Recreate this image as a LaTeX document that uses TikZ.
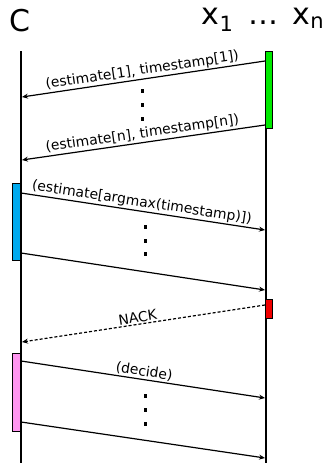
\documentclass[tikz,border=0pt]{standalone}
\usepackage{fontspec}
\setmainfont{DejaVu Sans}
\usetikzlibrary{arrows.meta}
\definecolor{actgreen}{RGB}{0,235,0}
\definecolor{actblue}{RGB}{0,170,238}
\definecolor{actred}{RGB}{240,0,0}
\definecolor{actpink}{RGB}{255,150,240}
\begin{document}
\begin{tikzpicture}[x=1pt,y=-1pt,
  lifeline/.style={line width=2pt},
  msg/.style={line width=1.2pt,-{Stealth[length=6pt,width=5pt]}},
  nack/.style={msg,dash pattern=on 3pt off 2pt},
  lbl/.style={font=\fontsize{13.9}{14}\selectfont,sloped,above,inner sep=1.2pt},
  act/.style={draw=black,line width=1pt},
  dotmark/.style={fill=black,inner sep=0pt,minimum width=3pt,minimum height=4pt},
  head/.style={font=\fontsize{30}{31}\selectfont,inner sep=0pt}]
\useasboundingbox (0,0) rectangle (325,463);
% headers
\node[head] (hc) at (20,21) {C};
\node[head] (hx) at (263,20) {x$_{\mathrm{1}}$ \,…\, x$_{\mathrm{n}}$};
% lifelines
\coordinate (ctop) at (21,51);
\coordinate (cbot) at (21,463);
\coordinate (xtop) at (266,51);
\coordinate (xbot) at (266,463);
\draw[lifeline] (ctop) -- (cbot);
\draw[lifeline] (xtop) -- (xbot);
% activation boxes
\draw[act,fill=actgreen] (265,51) rectangle (272,128);
\draw[act,fill=actblue] (12.5,183) rectangle (20.5,260);
\draw[act,fill=actred] (265,299) rectangle (272,318);
\draw[act,fill=actpink] (12,353) rectangle (20.5,431);
% message end points
\coordinate (a1s) at (265,61);  \coordinate (a1e) at (22,97);
\coordinate (a2s) at (265,125); \coordinate (a2e) at (22,160);
\coordinate (a3s) at (21,193);  \coordinate (a3e) at (265,230);
\coordinate (a4s) at (21,253);  \coordinate (a4e) at (265,290);
\coordinate (a5s) at (265,305); \coordinate (a5e) at (22,342);
\coordinate (a6s) at (21,361);  \coordinate (a6e) at (265,398);
\coordinate (a7s) at (21,422);  \coordinate (a7e) at (265,458);
% messages
\draw[msg] (a1s) -- node[lbl] {(estimate[1], timestamp[1])} (a1e);
\draw[msg] (a2s) -- node[lbl] {(estimate[n], timestamp[n])} (a2e);
\draw[msg] (a3s) -- node[lbl,pos=0.49] {(estimate[argmax(timestamp)])} (a3e);
\draw[msg] (a4s) -- (a4e);
\draw[nack] (a5s) -- node[lbl,pos=0.52] {NACK} (a5e);
\draw[msg] (a6s) -- node[lbl] {(decide)} (a6e);
\draw[msg] (a7s) -- (a7e);
% vertical ellipses
\foreach \n/\y in {d1/91,d2/105,d3/119}{\node[dotmark] (\n) at (142.5,\y) {};}
\foreach \n/\y in {e1/227,e2/241,e3/254}{\node[dotmark] (\n) at (145,\y) {};}
\foreach \n/\y in {f1/396,f2/410,f3/424}{\node[dotmark] (\n) at (145,\y) {};}
\end{tikzpicture}
\end{document}
